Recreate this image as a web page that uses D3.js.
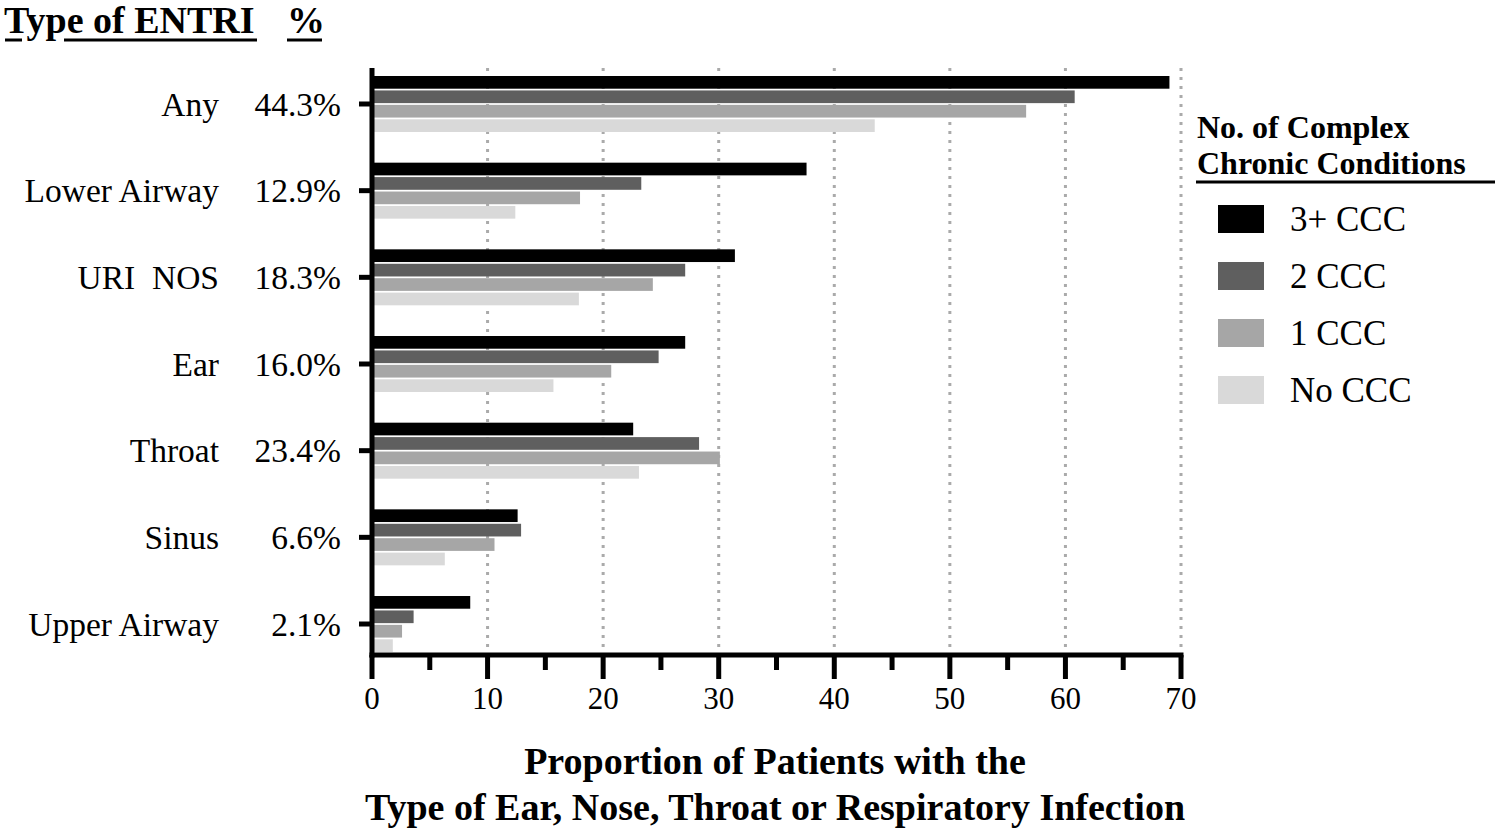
<!DOCTYPE html>
<html>
<head>
<meta charset="utf-8">
<script src="https://cdn.jsdelivr.net/npm/d3@7"></script>
<style>
  html, body { margin: 0; padding: 0; background: #fff; }
  svg { display: block; }
  text { font-family: "Liberation Serif", "Times New Roman", serif; fill: #000; }
</style>
</head>
<body>
<svg id="chart" width="1500" height="839"></svg>
<script>
// ---- Data ----
const categories = ["Any", "Lower Airway", "URI  NOS", "Ear", "Throat", "Sinus", "Upper Airway"];
const overallPct = ["44.3%", "12.9%", "18.3%", "16.0%", "23.4%", "6.6%", "2.1%"];
const seriesNames = ["3+ CCC", "2 CCC", "1 CCC", "No CCC"];
const seriesColors = ["#000000", "#5f5f5f", "#a6a6a6", "#d9d9d9"];
const ccc3plus = [69.0, 37.6, 31.4, 27.1, 22.6, 12.6, 8.5];
const ccc2     = [60.8, 23.3, 27.1, 24.8, 28.3, 12.9, 3.6];
const ccc1     = [56.6, 18.0, 24.3, 20.7, 30.1, 10.6, 2.6];
const cccNone  = [43.5, 12.4, 17.9, 15.7, 23.1, 6.3, 1.8];
const seriesValues = [ccc3plus, ccc2, ccc1, cccNone];
const xTicks = [0, 10, 20, 30, 40, 50, 60, 70];
const xMinorTicks = [5, 15, 25, 35, 45, 55, 65];

const svg = d3.select("#chart");

const x = d3.scaleLinear().domain([0, 70]).range([372, 1181]);
const y = d3.scaleBand().domain(categories).range([76, 652]).paddingInner(0.354).paddingOuter(0);
const ySub = d3.scaleBand().domain(seriesNames).range([0, y.bandwidth()]).paddingInner(0.12);
const color = d3.scaleOrdinal().domain(seriesNames).range(seriesColors);

const plotTop = 68, axisY = 655;

// gridlines (dotted)
svg.append("g").selectAll("line")
  .data(xTicks.filter(d => d > 0))
  .join("line")
  .attr("x1", d => x(d)).attr("x2", d => x(d))
  .attr("y1", plotTop).attr("y2", axisY - 3)
  .attr("stroke", "#aaaaaa").attr("stroke-width", 3)
  .attr("stroke-dasharray", "3,6");

// bars
const rows = [];
categories.forEach((c, i) => {
  seriesNames.forEach((s, j) => rows.push({ cat: c, series: s, value: seriesValues[j][i] }));
});
svg.append("g").selectAll("rect")
  .data(rows)
  .join("rect")
  .attr("x", x(0) + 2)
  .attr("y", d => y(d.cat) + ySub(d.series))
  .attr("width", d => Math.max(0, x(d.value) - x(0) - 2))
  .attr("height", ySub.bandwidth())
  .attr("fill", d => color(d.series));

// X axis
const xAxis = svg.append("g").attr("transform", `translate(0,${axisY})`);
xAxis.append("line").attr("x1", x(0) - 2.5).attr("x2", x(70) + 2.5).attr("y1", 0).attr("y2", 0)
  .attr("stroke", "#000").attr("stroke-width", 5);
xAxis.selectAll("line.major").data(xTicks).join("line").attr("class", "major")
  .attr("x1", d => x(d)).attr("x2", d => x(d)).attr("y1", 0).attr("y2", 24)
  .attr("stroke", "#000").attr("stroke-width", 5);
xAxis.selectAll("line.minor").data(xMinorTicks).join("line").attr("class", "minor")
  .attr("x1", d => x(d)).attr("x2", d => x(d)).attr("y1", 0).attr("y2", 15)
  .attr("stroke", "#000").attr("stroke-width", 5);
xAxis.selectAll("text").data(xTicks).join("text")
  .attr("x", d => x(d)).attr("y", 54)
  .attr("text-anchor", "middle").attr("font-size", 31)
  .text(d => d);

// Y axis
svg.append("line").attr("x1", x(0)).attr("x2", x(0)).attr("y1", plotTop).attr("y2", axisY + 2.5)
  .attr("stroke", "#000").attr("stroke-width", 5);
const yc = d => y(d) + y.bandwidth() / 2;
svg.append("g").selectAll("line").data(categories).join("line")
  .attr("x1", 359).attr("x2", x(0)).attr("y1", yc).attr("y2", yc)
  .attr("stroke", "#000").attr("stroke-width", 5);
svg.append("g").selectAll("text").data(categories).join("text")
  .attr("x", 219).attr("y", d => yc(d)).attr("dy", "0.35em")
  .attr("text-anchor", "end").attr("font-size", 33.5)
  .style("white-space", "pre")
  .text(d => d);
svg.append("g").selectAll("text").data(categories).join("text")
  .attr("x", 341).attr("y", d => yc(d)).attr("dy", "0.35em")
  .attr("text-anchor", "end").attr("font-size", 33.5)
  .text((d, i) => overallPct[i]);

// Header
svg.append("text").attr("x", 4).attr("y", 33).attr("font-size", 38).attr("font-weight", "bold")
  .text("Type of ENTRI");
svg.append("text").attr("x", 287).attr("y", 33).attr("font-size", 38).attr("font-weight", "bold")
  .text("%");
svg.append("line").attr("x1", 5).attr("x2", 22).attr("y1", 40).attr("y2", 40).attr("stroke", "#000").attr("stroke-width", 3);
svg.append("line").attr("x1", 64).attr("x2", 257).attr("y1", 40).attr("y2", 40).attr("stroke", "#000").attr("stroke-width", 3);
svg.append("line").attr("x1", 287).attr("x2", 322).attr("y1", 40).attr("y2", 40).attr("stroke", "#000").attr("stroke-width", 3);

// X title
const xTitle = svg.append("text").attr("text-anchor", "middle").attr("font-size", 38).attr("font-weight", "bold");
xTitle.append("tspan").attr("x", 775).attr("y", 774).text("Proportion of Patients with the");
xTitle.append("tspan").attr("x", 775).attr("y", 820).text("Type of Ear, Nose, Throat or Respiratory Infection");

// Legend
const lg = svg.append("g");
lg.append("text").attr("x", 1197).attr("y", 138).attr("font-size", 32).attr("font-weight", "bold").text("No. of Complex");
lg.append("text").attr("x", 1197).attr("y", 174).attr("font-size", 32).attr("font-weight", "bold").text("Chronic Conditions");
lg.append("line").attr("x1", 1196).attr("x2", 1495).attr("y1", 182).attr("y2", 182).attr("stroke", "#000").attr("stroke-width", 3);
const items = lg.selectAll("g.item").data(seriesNames).join("g").attr("class", "item")
  .attr("transform", (d, i) => `translate(1218,${205 + i * 57})`);
items.append("rect").attr("width", 46).attr("height", 28).attr("fill", d => color(d));
items.append("text").attr("x", 72).attr("y", 14).attr("dy", "0.35em").attr("font-size", 35).text(d => d);
</script>
</body>
</html>
